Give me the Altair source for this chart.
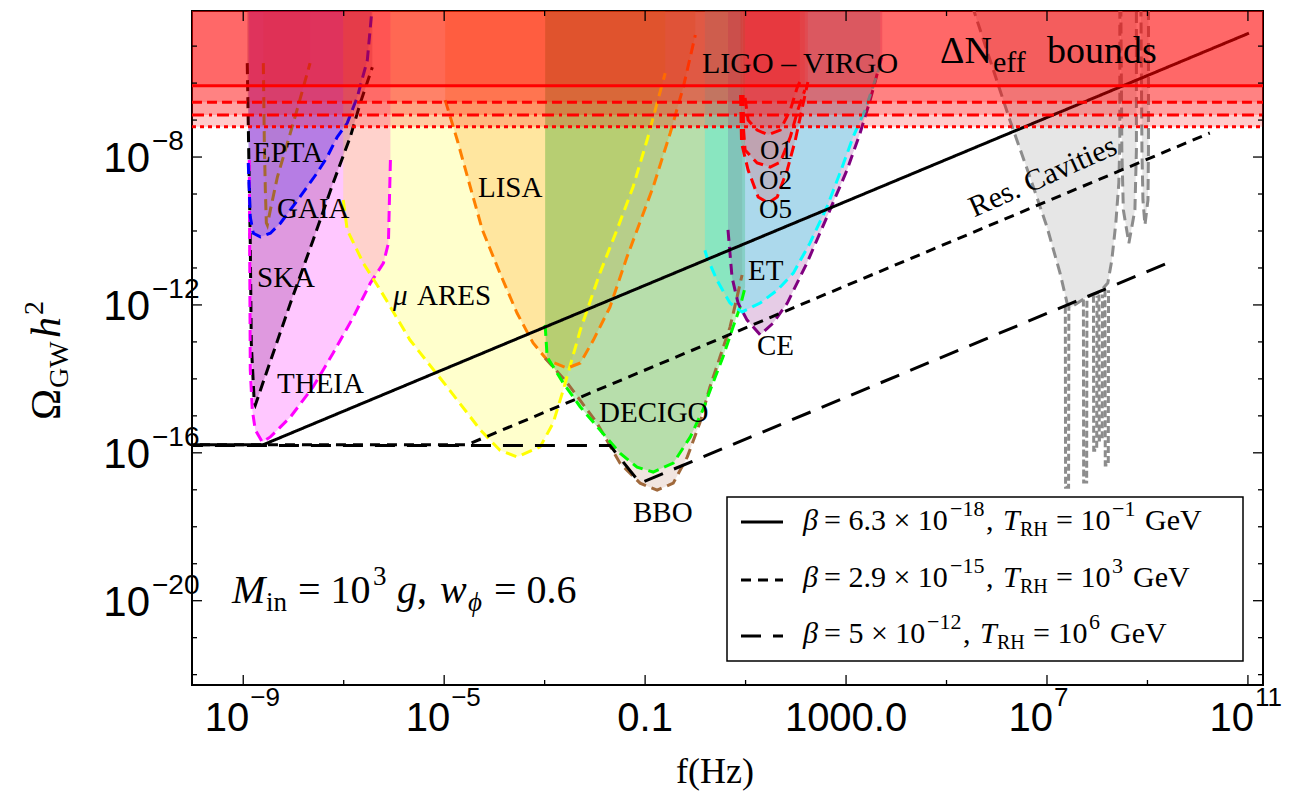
import altair as alt
import pandas as pd

# All positions are plotted as log10 values on linear scales:
#   x = log10 f [Hz],  y = log10 (Omega_GW h^2)

# ---------------- axis ticks (log10 values) ----------------
X_MAJOR = [-9, -5, -1, 3, 7, 11]
X_MINOR = [-7, -3, 1, 5, 9]
X_LABEL_BASE = ["10", "10", "0.1", "1000.0", "10", "10"]
X_LABEL_EXP = ["−9", "−5", "", "", "7", "11"]
Y_MAJOR = [-8, -12, -16, -20]
Y_MINOR = [-22, -21, -19, -18, -17, -15, -14, -13, -11, -10, -9, -7, -6, -5]
Y_LABEL_EXP = ["−8", "−12", "−16", "−20"]

# ---------------- sensitivity curves ----------------
SKA_LOGF = [-8.92, -8.86, -8.84, -8.78, -8.76, -8.52, -8.06, -7.61, -7.21, -6.87, -6.67, -6.43]
SKA_LOGO = [-5.46, -10.33, -13.03, -14.65, -14.71, -13.76, -11.95, -10.25, -8.70, -7.46, -6.54, -5.57]

EPTA_LOGF = [-8.90, -8.88, -8.86, -8.80, -8.66, -8.46, -8.26, -7.87, -7.53, -7.33, -7.13, -6.93, -6.73, -6.53, -6.43]
EPTA_LOGO = [-8.16, -8.89, -9.62, -10.06, -10.16, -10.06, -9.79, -9.08, -8.43, -8.00, -7.46, -7.08, -6.38, -5.38, -3.90]

GAIA_LOGF = [-8.60, -8.58, -8.56, -8.54, -8.52, -8.46, -8.32, -8.12, -7.93, -7.67]
GAIA_LOGO = [-5.46, -7.62, -8.89, -9.78, -9.84, -9.43, -8.54, -7.62, -6.73, -5.46]

THEIA_LOGF = [-8.88, -8.86, -8.82, -8.76, -8.62, -8.46, -8.06, -7.61, -7.21, -6.81, -6.47, -6.21, -6.11, -6.09, -6.07]
THEIA_LOGO = [-8.08, -13.76, -14.84, -15.38, -15.71, -15.57, -15.03, -14.22, -13.30, -12.33, -11.41, -10.87, -10.33, -9.16, -8.08]

MUARES_LOGF = [-7.01, -6.93, -6.61, -6.27, -5.68, -4.94, -4.28, -3.89, -3.55, -3.09, -2.83, -2.63, -2.29, -1.90, -1.56, -1.24, -0.96, -0.60]
MUARES_LOGO = [-9.16, -9.97, -10.87, -11.60, -12.95, -14.22, -15.38, -15.93, -16.11, -15.84, -15.19, -14.30, -12.68, -11.14, -9.97, -8.81, -7.54, -5.73]

LISA_LOGF = [-4.98, -4.74, -4.48, -4.24, -3.89, -3.55, -3.23, -2.95, -2.55, -2.29, -2.03, -1.70, -1.36, -0.84, -0.50, -0.24, 0.00]
LISA_LOGO = [-6.46, -7.54, -8.81, -9.97, -11.14, -12.22, -13.03, -13.49, -13.71, -13.57, -12.95, -12.06, -10.70, -8.81, -7.35, -6.11, -4.70]

DECIGO_LOGF = [-2.99, -2.95, -2.63, -2.29, -1.90, -1.50, -1.16, -0.84, -0.44, -0.10, 0.15, 0.35, 0.55, 0.75, 0.89, 0.99]
DECIGO_LOGO = [-12.54, -13.41, -14.11, -14.76, -15.38, -16.01, -16.39, -16.52, -16.28, -15.57, -14.84, -14.11, -13.41, -12.60, -12.06, -11.52]

BBO_LOGF = [-2.99, -2.55, -1.96, -1.50, -1.10, -0.76, -0.44, -0.16, 0.09, 0.29, 0.49, 0.69, 0.83, 0.93]
BBO_LOGO = [-13.44, -14.11, -15.19, -16.28, -16.82, -17.01, -16.82, -16.11, -15.19, -14.22, -13.41, -12.60, -11.79, -11.19]

ET_LOGF = [0.19, 0.23, 0.43, 0.69, 0.93, 1.29, 1.63, 1.95, 2.28, 2.62, 2.88, 3.14, 3.38, 3.68]
ET_LOGO = [-10.52, -10.70, -11.33, -11.95, -12.19, -11.95, -11.60, -11.14, -10.33, -9.35, -8.43, -7.46, -6.73, -5.51]

CE_LOGF = [0.65, 0.73, 0.85, 1.03, 1.29, 1.55, 1.83, 2.22, 2.62, 3.02, 3.28, 3.48, 3.72]
CE_LOGO = [-9.97, -11.25, -11.95, -12.41, -12.81, -12.49, -11.95, -10.87, -9.62, -8.35, -7.35, -6.46, -5.24]

LIGO_O1_LOGF = [0.99, 1.05, 1.23, 1.45, 1.69, 1.89, 2.03, 2.08]
LIGO_O1_LOGO = [-6.40, -7.00, -7.27, -7.40, -7.27, -6.73, -6.11, -5.97]
LIGO_O2_LOGF = [0.95, 0.96, 0.99, 1.23, 1.49, 1.69, 1.89, 2.04, 2.18]
LIGO_O2_LOGO = [-6.32, -7.27, -7.81, -8.16, -8.27, -8.14, -7.46, -6.73, -6.19]
LIGO_O5_LOGF = [0.90, 0.92, 1.05, 1.25, 1.45, 1.63, 1.83, 1.99, 2.14, 2.24]
LIGO_O5_LOGO = [-6.32, -7.62, -8.35, -9.08, -9.24, -9.08, -8.35, -7.54, -6.59, -5.97]

RES_LOGF = [5.51, 6.26, 6.66, 7.00, 7.26, 7.40, 7.46, 7.76, 8.05, 8.21, 8.29, 8.37, 8.43, 8.45, 8.45]
RES_LOGO = [-3.90, -7.00, -8.54, -9.89, -11.14, -11.95, -12.08, -11.81, -11.65, -11.41, -10.79, -9.79, -8.70, -7.62, -3.90]
RES_A_LOGF = [8.47, 8.49, 8.52, 8.63, 8.75, 8.78, 8.78]
RES_A_LOGO = [-3.90, -7.81, -9.43, -10.33, -9.43, -7.81, -3.90]
RES_B_LOGF = [8.87, 8.89, 8.91, 8.95, 9.01, 9.02, 9.02]
RES_B_LOGO = [-3.90, -7.81, -9.16, -9.84, -9.16, -7.81, -3.90]

# narrow resonant-cavity spikes
SPIKE_LOGF = [
    [7.365, 7.37, 7.43, 7.435],
    [7.725, 7.73, 7.79, 7.795],
    [7.925, 7.93, 7.99, 7.995],
    [8.035, 8.04, 8.10, 8.105],
    [8.155, 8.16, 8.22, 8.225],
]
SPIKE_LOGO = [
    [-12.05, -16.93, -16.93, -12.05],
    [-11.85, -16.79, -16.79, -11.85],
    [-11.75, -15.93, -15.93, -11.75],
    [-11.72, -15.65, -15.65, -11.72],
    [-11.60, -16.33, -16.33, -11.60],
]

# ---------------- GW spectra ----------------
SOLID_LOGF = [-10.2, -8.60, 11.02]
SOLID_LOGO = [-15.78, -15.78, -4.65]
SHORT_LOGF = [-10.2, -4.54, 10.24]
SHORT_LOGO = [-15.78, -15.78, -7.35]
LONG_LOGF = [-10.2, -1.70, -1.10, 9.45]
LONG_LOGO = [-15.80, -15.80, -16.82, -10.84]

# Delta N_eff bounds
NEFF_LOGO = [-6.07, -6.52, -6.86, -7.18]

# ---------------- layout ----------------
PX0, PY0 = 192, 11
W, H = 1071, 674
SERIF = "Liberation Serif"
SANS = "Liberation Sans"
NARROW = "Liberation Sans Narrow, Liberation Sans"
TOP = -3.5  # fill ceiling, above the visible range

xs = alt.Scale(domain=[-10.02, 11.3], nice=False, zero=False)
ys = alt.Scale(domain=[-22.28, -4.05], nice=False, zero=False)

DETECTORS = [
    ("SKA", SKA_LOGF, SKA_LOGO, "#000000", "#783c78", 0.30),
    ("THEIA", THEIA_LOGF, THEIA_LOGO, "#ff00ff", "#ff00ff", 0.22),
    ("EPTA", EPTA_LOGF, EPTA_LOGO, "#0000ff", "#0000ff", 0.18),
    ("GAIA", GAIA_LOGF, GAIA_LOGO, "#a5692f", "#a5692f", 0.08),
    ("muARES", MUARES_LOGF, MUARES_LOGO, "#ffff00", "#ffff00", 0.20),
    ("LISA", LISA_LOGF, LISA_LOGO, "#ff8000", "#ff8c00", 0.22),
    ("BBO", BBO_LOGF, BBO_LOGO, "#a0693c", "#a0522d", 0.15),
    ("DECIGO", DECIGO_LOGF, DECIGO_LOGO, "#00ff00", "#32cd32", 0.30),
    ("CE", CE_LOGF, CE_LOGO, "#800080", "#800080", 0.20),
    ("ET", ET_LOGF, ET_LOGO, "#00ffff", "#00ffff", 0.25),
    ("O5", LIGO_O5_LOGF, LIGO_O5_LOGO, "#ff0000", "#ff0000", 0.14),
    ("O2", LIGO_O2_LOGF, LIGO_O2_LOGO, "#ff0000", "#ff0000", 0.12),
    ("O1", LIGO_O1_LOGF, LIGO_O1_LOGO, "#ff0000", "#ff0000", 0.12),
    ("RES", RES_LOGF, RES_LOGO, "#8c8c8c", "#808080", 0.20),
    ("RES_A", RES_A_LOGF, RES_A_LOGO, "#8c8c8c", "#808080", 0.20),
    ("RES_B", RES_B_LOGF, RES_B_LOGO, "#8c8c8c", "#808080", 0.20),
]

rows = []
for name, lf, lo, stroke, fill, alpha in DETECTORS:
    for i, (a, b) in enumerate(zip(lf, lo)):
        rows.append(dict(det=name, i=i, lf=a, lo=b, top=TOP, stroke=stroke))
curves = pd.DataFrame(rows)

spike_rows = []
for k, (lf, lo) in enumerate(zip(SPIKE_LOGF, SPIKE_LOGO)):
    for i, (a, b) in enumerate(zip(lf, lo)):
        spike_rows.append(dict(det=f"spike{k}", i=i, lf=a, lo=b))
spikes = pd.DataFrame(spike_rows)

def series(lf, lo):
    return pd.DataFrame({"i": list(range(len(lf))), "lf": lf, "lo": lo})

X = lambda: alt.X("lf:Q", scale=xs, axis=None)
Y = lambda: alt.Y("lo:Q", scale=ys, axis=None)

# filled detector regions: from each curve up to the top of the frame
fill_layers = []
for name, lf, lo, stroke, fill, alpha in DETECTORS:
    fill_layers.append(
        alt.Chart(curves[curves["det"] == name]).mark_area(
            clip=True, color=fill, opacity=alpha).encode(
            x=X(), y=alt.Y("lo:Q", scale=ys, axis=None, stack=None), y2=alt.Y2("top")))

outlines = alt.Chart(curves).mark_line(clip=True, strokeWidth=3, strokeDash=[11, 6]).encode(
    x=X(), y=Y(), stroke=alt.Stroke("stroke:N", scale=None),
    detail="det:N", order=alt.Order("i:Q"),
)
spike_lines = alt.Chart(spikes).mark_line(clip=True, strokeWidth=3, strokeDash=[7, 3],
                                          color="#8c8c8c").encode(
    x=X(), y=Y(), detail="det:N", order=alt.Order("i:Q"),
)

def spectrum(lf, lo, dash):
    return alt.Chart(series(lf, lo)).mark_line(clip=True, strokeWidth=3, color="black",
                                               strokeDash=dash).encode(
        x=X(), y=Y(), order=alt.Order("i:Q"))

spectrum_layers = [spectrum(SOLID_LOGF, SOLID_LOGO, [1, 0]),
                   spectrum(SHORT_LOGF, SHORT_LOGO, [10, 7]),
                   spectrum(LONG_LOGF, LONG_LOGO, [20, 12])]

neff_rects, neff_rules = [], []
for lev, dash in zip(NEFF_LOGO, [[1, 0], [10, 5], [12, 5, 3, 5], [4, 4]]):
    d = pd.DataFrame({"level": [lev]})
    neff_rects.append(alt.Chart(d).mark_rect(clip=True, color="#ff0000", opacity=0.2).encode(
        x=alt.value(0), x2=alt.value(W),
        y=alt.Y("level:Q", scale=ys, axis=None), y2=alt.value(0)))
    neff_rules.append(alt.Chart(d).mark_rule(clip=True, color="#ff0000", strokeWidth=3,
                                             strokeDash=dash).encode(
        y=alt.Y("level:Q", scale=ys, axis=None), x=alt.value(0), x2=alt.value(W)))

# ---------------- frame ticks (inside) ----------------
def xticks(exps, size):
    d = pd.DataFrame({"v": exps})
    xe = alt.X("v:Q", scale=xs, axis=None)
    bot = alt.Chart(d).mark_rule(strokeWidth=1.3, color="black").encode(
        x=xe, y=alt.value(H), y2=alt.value(H - size))
    top = alt.Chart(d).mark_rule(strokeWidth=1.3, color="black").encode(
        x=xe, y=alt.value(0), y2=alt.value(size))
    return [bot, top]

def yticks(exps, size):
    d = pd.DataFrame({"v": exps})
    ye = alt.Y("v:Q", scale=ys, axis=None)
    left = alt.Chart(d).mark_rule(strokeWidth=1.3, color="black").encode(
        y=ye, x=alt.value(0), x2=alt.value(size))
    right = alt.Chart(d).mark_rule(strokeWidth=1.3, color="black").encode(
        y=ye, x=alt.value(W), x2=alt.value(W - size))
    return [left, right]

tick_layers = xticks(X_MAJOR, 10) + xticks(X_MINOR, 5) + yticks(Y_MAJOR, 10) + yticks(Y_MINOR, 5)

# ---------------- tick labels ----------------
ylab = pd.DataFrame({"v": Y_MAJOR, "base": ["10"] * len(Y_MAJOR), "exp": Y_LABEL_EXP})
ylab_base = alt.Chart(ylab).mark_text(font=SANS, fontSize=42, align="right", baseline="alphabetic",
                                      dy=15, color="black").encode(
    y=alt.Y("v:Q", scale=ys, axis=None), x=alt.value(150 - PX0), text="base:N")
ylab_exp = alt.Chart(ylab).mark_text(font=SANS, fontSize=28, align="left", baseline="alphabetic",
                                     dy=-7, color="black").encode(
    y=alt.Y("v:Q", scale=ys, axis=None), x=alt.value(152 - PX0), text="exp:N")

xlab = pd.DataFrame({"v": X_MAJOR, "base": X_LABEL_BASE, "exp": X_LABEL_EXP})
xlab_pow = xlab[xlab["exp"] != ""]
xlab_plain = xlab[xlab["exp"] == ""]
xlab_base = alt.Chart(xlab_pow).mark_text(font=NARROW, fontSize=40, align="right", baseline="alphabetic",
                                          dx=6, color="black").encode(
    x=alt.X("v:Q", scale=xs, axis=None), y=alt.value(731 - PY0), text="base:N")
xlab_exp = alt.Chart(xlab_pow).mark_text(font=NARROW, fontSize=26, align="left", baseline="alphabetic",
                                         dx=7, color="black").encode(
    x=alt.X("v:Q", scale=xs, axis=None), y=alt.value(706 - PY0), text="exp:N")
xlab_txt = alt.Chart(xlab_plain).mark_text(font=NARROW, fontSize=40, align="center", baseline="alphabetic",
                                           color="black").encode(
    x=alt.X("v:Q", scale=xs, axis=None), y=alt.value(731 - PY0), text="base:N")

# ---------------- annotations ----------------
ONE = pd.DataFrame({"k": [0]})

def note(text, x, y, size, style="normal", align="left", angle=0, font=SERIF, baseline="alphabetic"):
    return alt.Chart(ONE).mark_text(font=font, fontSize=size, fontStyle=style, align=align,
                                    angle=angle, baseline=baseline, color="black").encode(
        x=alt.value(x - PX0), y=alt.value(y - PY0), text=alt.value(text))

notes = [
    note("EPTA", 253, 162, 29),
    note("GAIA", 277, 218, 29),
    note("SKA", 257, 287, 29),
    note("THEIA", 277, 393, 29),
    note("μ", 393, 305, 29, style="italic"),
    note("ARES", 417, 305, 29),
    note("LISA", 478, 197, 29),
    note("DECIGO", 599, 422, 29),
    note("BBO", 633, 522, 29),
    note("ET", 748, 280, 29),
    note("CE", 757, 355, 29),
    note("O1", 760, 159, 27),
    note("O2", 759, 189, 27),
    note("O5", 759, 218, 27),
    note("LIGO – VIRGO", 702, 73, 30),
    note("ΔN", 992, 63, 38, align="right"),
    note("eff", 993, 72, 30),
    note("bounds", 1047, 63, 38),
    note("Res. Cavities", 1043, 177, 30, align="center", angle=336, baseline="middle"),
    # M_in = 10^3 g, w_phi = 0.6
    note("M", 232, 603, 40, style="italic"),
    note("in", 266, 611, 27),
    note("= 10", 298, 603, 40),
    note("3", 373, 585, 27),
    note("g", 397, 603, 40, style="italic"),
    note(",", 417, 603, 40),
    note("w", 440, 603, 40, style="italic"),
    note("ϕ", 468, 611, 27, style="italic"),
    note("= 0.6", 494, 603, 40),
    # axis titles
    note("f(Hz)", 715, 783, 36, align="center"),
    note("Ω", 60, 420, 42, angle=270),
    note("GW", 68, 388, 28, angle=270),
    note("h", 60, 338, 42, style="italic", angle=270),
    note("2", 43, 315, 28, angle=270),
]

# ---------------- legend ----------------
legend_box = alt.Chart(ONE).mark_rect(fill="white", stroke="black", strokeWidth=1.5).encode(
    x=alt.value(727 - PX0), x2=alt.value(1243 - PX0), y=alt.value(497 - PY0), y2=alt.value(661 - PY0))

def sample(y, dash):
    return alt.Chart(ONE).mark_rule(color="black", strokeWidth=3, strokeDash=dash).encode(
        x=alt.value(741 - PX0), x2=alt.value(783 - PX0), y=alt.value(y - PY0))

legend = [legend_box, sample(522, [1, 0]), sample(580, [10, 7]), sample(636, [20, 12])]

# baseline, coefficient, beta exponent, its x, comma x, T_RH exponent, its x, GeV x
LEG_ROWS = [
    (530, "= 6.3 × 10", "−18", 950, 986, "−1", 1112, 1145),
    (587, "= 2.9 × 10", "−15", 950, 986, "3", 1112, 1133),
    (643, "= 5 × 10", "−12", 927, 963, "6", 1089, 1110),
]
for y, coef, e1, xe1, xc, e2, xe2, xg in LEG_ROWS:
    xt = xc + 17
    legend += [
        note("β", 803, y, 30, style="italic"),
        note(coef, 824, y, 30),
        note(e1, xe1, y - 14, 22),
        note(",", xc, y, 30),
        note("T", xt, y, 30, style="italic"),
        note("RH", xt + 17, y + 6, 20),
        note("= 10", xt + 53, y, 30),
        note(e2, xe2, y - 14, 22),
        note("GeV", xg, y, 30),
    ]

layers = (fill_layers + [outlines, spike_lines] + spectrum_layers + neff_rects + neff_rules
          + tick_layers + [ylab_base, ylab_exp, xlab_base, xlab_exp, xlab_txt]
          + notes + legend)

chart = alt.layer(*layers).properties(
    width=W, height=H, autosize="none",
    padding={"left": PX0, "top": PY0, "right": 1309 - PX0 - W, "bottom": 796 - PY0 - H},
    background="white",
).configure_view(stroke="black", strokeWidth=2)

chart.save("out.html", embed_options={"renderer": "svg", "actions": False})
